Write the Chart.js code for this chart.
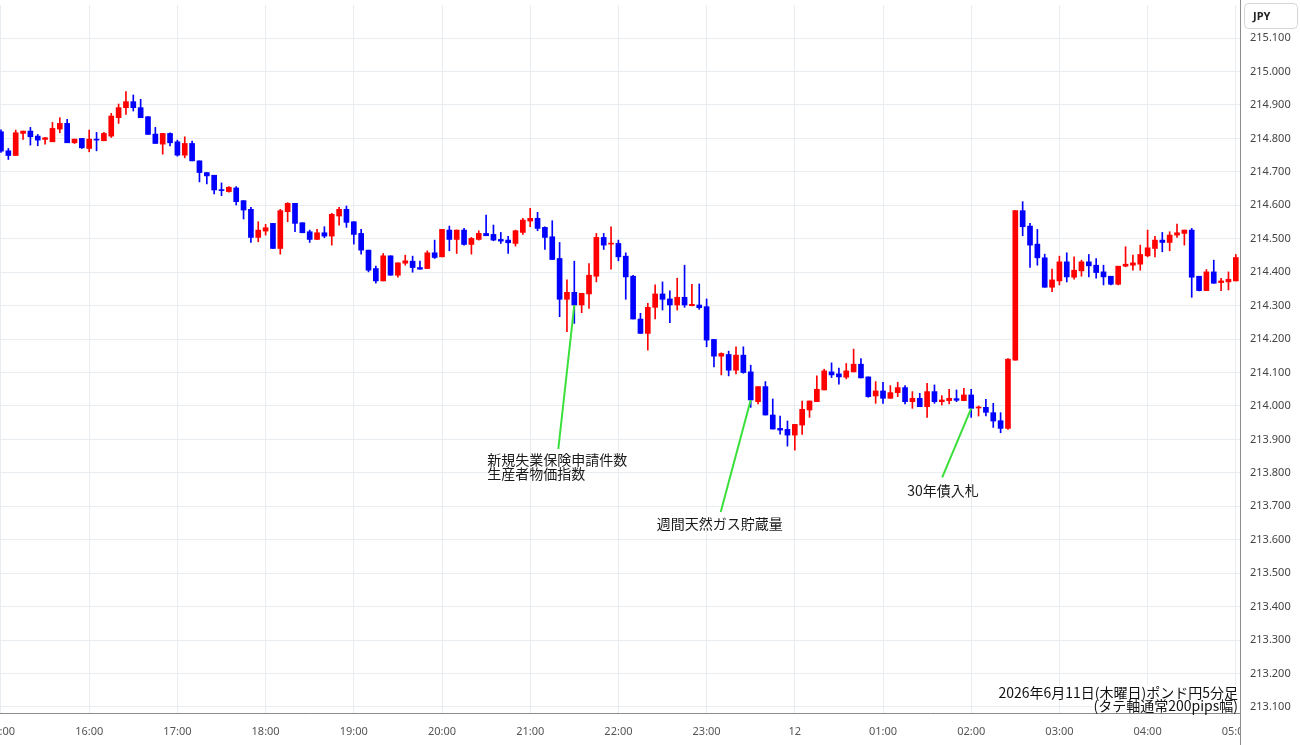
<!DOCTYPE html>
<html>
<head>
<meta charset="utf-8">
<script src="https://cdn.jsdelivr.net/npm/chart.js@4.4.1/dist/chart.umd.min.js"></script>
<style>
html,body{margin:0;padding:0;background:#fff;}
#wrap{position:relative;width:1300px;height:745px;}
</style>
</head>
<body>
<div id="wrap"><canvas id="c" width="1300" height="745"></canvas></div>
<script>
// ---- data (5-minute candles, index 0 = 15:00) ----
const opens = [
214.820,214.763,214.749,214.815,214.822,214.807,214.797,214.790,214.828,214.845,
214.787,214.800,214.770,214.798,214.793,214.807,214.862,214.892,214.910,214.892,
214.865,214.813,214.783,214.815,214.790,214.750,214.785,214.733,214.698,214.690,
214.646,214.641,214.652,214.614,214.588,214.504,214.523,214.546,214.471,214.581,
214.606,214.548,214.521,214.498,214.518,214.508,214.568,214.588,214.551,214.516,
214.466,214.411,214.374,214.449,214.391,214.427,214.433,214.414,214.411,214.458,
214.446,214.526,214.498,214.526,214.483,214.498,214.516,214.513,214.498,214.496,
214.486,214.519,214.553,214.561,214.534,214.506,214.441,214.319,214.340,214.302,
214.335,214.388,214.504,214.484,214.486,214.448,214.388,214.260,214.217,214.295,
214.335,214.320,214.302,214.325,214.300,214.302,214.297,214.199,214.149,214.154,
214.107,214.152,214.102,214.013,214.058,213.973,213.933,213.930,213.913,213.943,
213.988,214.013,214.048,214.102,214.096,214.086,214.102,214.125,214.087,214.030,
214.045,214.023,214.040,214.055,214.013,214.023,213.998,214.043,214.013,214.016,
214.022,214.016,214.033,213.994,213.996,213.980,213.956,213.933,214.137,214.584,
214.538,214.484,214.443,214.355,214.374,214.431,214.385,214.404,214.431,214.421,
214.401,214.388,214.364,214.418,214.421,214.424,214.449,214.471,214.496,214.489,
214.511,214.516,214.526,214.388,214.345,214.401,214.369,214.371,214.374
];
const highs = [
214.826,214.770,214.825,214.822,214.833,214.812,214.803,214.848,214.862,214.857,
214.798,214.800,214.825,214.818,214.818,214.875,214.903,214.940,214.930,214.917,
214.865,214.833,214.815,214.817,214.795,214.805,214.792,214.733,214.698,214.690,
214.667,214.656,214.656,214.614,214.594,214.551,214.543,214.546,214.588,214.608,
214.606,214.548,214.526,214.528,214.536,214.576,214.594,214.598,214.551,214.528,
214.466,214.418,214.456,214.449,214.428,214.451,214.448,214.433,214.464,214.496,
214.528,214.538,214.526,214.531,214.504,214.524,214.571,214.541,214.519,214.507,
214.526,214.561,214.591,214.579,214.536,214.554,214.489,214.377,214.433,214.337,
214.426,214.516,214.516,214.536,214.496,214.458,214.391,214.277,214.307,214.362,
214.371,214.344,214.382,214.421,214.364,214.365,214.320,214.199,214.159,214.164,
214.177,214.177,214.122,214.058,214.073,214.021,213.970,213.955,213.945,214.015,
214.015,214.090,214.110,214.129,214.113,214.127,214.170,214.142,214.087,214.073,
214.071,214.061,214.071,214.061,214.043,214.038,214.068,214.063,214.031,214.050,
214.048,214.053,214.050,214.000,214.020,214.008,213.980,214.142,214.584,214.611,
214.546,214.528,214.454,214.409,214.448,214.458,214.446,214.436,214.453,214.441,
214.421,214.388,214.418,214.476,214.451,214.481,214.526,214.507,214.519,214.521,
214.544,214.526,214.531,214.388,214.408,214.436,214.382,214.401,214.453
];
const lows = [
214.758,214.737,214.749,214.797,214.780,214.778,214.783,214.790,214.817,214.787,
214.785,214.770,214.760,214.763,214.793,214.803,214.845,214.872,214.882,214.862,
214.812,214.785,214.753,214.778,214.747,214.742,214.733,214.670,214.664,214.634,
214.629,214.639,214.601,214.559,214.489,214.491,214.511,214.471,214.454,214.551,
214.521,214.518,214.489,214.498,214.503,214.481,214.541,214.534,214.484,214.454,
214.401,214.367,214.374,214.391,214.385,214.421,214.400,214.409,214.411,214.441,
214.446,214.464,214.456,214.481,214.454,214.496,214.509,214.494,214.486,214.456,
214.478,214.513,214.536,214.524,214.468,214.438,214.267,214.222,214.247,214.279,
214.292,214.371,214.468,214.409,214.434,214.319,214.260,214.217,214.167,214.260,
214.287,214.249,214.287,214.295,214.299,214.289,214.177,214.117,214.093,214.090,
214.096,214.098,213.996,214.006,213.973,213.931,213.916,213.880,213.868,213.915,
213.966,214.013,214.048,214.085,214.065,214.081,214.102,214.084,214.026,214.008,
214.008,214.023,214.028,214.006,213.993,213.998,213.966,214.008,214.003,214.006,
214.013,214.016,213.966,213.970,213.970,213.936,213.920,213.930,214.137,214.509,
214.414,214.421,214.355,214.342,214.362,214.371,214.379,214.388,214.386,214.382,
214.362,214.362,214.362,214.416,214.406,214.406,214.446,214.446,214.461,214.464,
214.504,214.481,214.325,214.344,214.345,214.367,214.345,214.347,214.374
];
const closes = [
214.762,214.749,214.817,214.822,214.805,214.795,214.802,214.830,214.845,214.787,
214.798,214.772,214.798,214.795,214.815,214.867,214.892,214.910,214.892,214.862,
214.812,214.785,214.815,214.787,214.750,214.785,214.733,214.698,214.688,214.646,
214.644,214.654,214.611,214.586,214.504,214.526,214.533,214.471,214.584,214.606,
214.546,214.518,214.498,214.518,214.508,214.573,214.588,214.549,214.513,214.466,
214.406,214.374,214.449,214.391,214.428,214.434,214.414,214.409,214.458,214.444,
214.528,214.498,214.526,214.483,214.501,214.516,214.509,214.496,214.493,214.488,
214.524,214.556,214.561,214.531,214.504,214.438,214.319,214.340,214.302,214.337,
214.391,214.504,214.481,214.486,214.446,214.386,214.260,214.217,214.295,214.335,
214.319,214.302,214.325,214.302,214.304,214.294,214.197,214.149,214.157,214.107,
214.152,214.100,214.018,214.058,213.973,213.931,213.928,213.913,213.945,213.990,
214.015,214.050,214.105,214.093,214.087,214.105,214.125,214.084,214.028,214.045,
214.023,214.040,214.055,214.013,214.023,213.998,214.043,214.013,214.018,214.023,
214.017,214.033,213.993,213.997,213.981,213.955,213.933,214.140,214.584,214.536,
214.481,214.443,214.355,214.377,214.431,214.386,214.406,214.431,214.419,214.399,
214.386,214.364,214.418,214.424,214.428,214.453,214.473,214.496,214.489,214.511,
214.518,214.526,214.385,214.345,214.401,214.367,214.374,214.379,214.444
];
const hourLabels = ['15:00','16:00','17:00','18:00','19:00','20:00','21:00','22:00','23:00','12','01:00','02:00','03:00','04:00','05:00'];
const candlesPerHour = 12;
const priceTickStep = 0.1;
const currencyLabel = 'JPY';
const titleLines = ['2026年6月11日(木曜日)ポンド円5分足', '(タテ軸通常200pips幅)'];
const noteIndex = [78, 102, 132];
const notePrice = [214.302, 214.018, 213.993];
const noteTexts = [['新規失業保険申請件数', '生産者物価指数'], ['週間天然ガス貯蔵量'], ['30年債入札']];

// ---- build datasets ----
const UP = '#ff0000', DOWN = '#0000ff';
const colors = closes.map((c, i) => c >= opens[i] ? UP : DOWN);
const bodyData = opens.map((o, i) => ({x: i, y: [o, closes[i]]}));
const wickData = lows.map((l, i) => ({x: i, y: [l, highs[i]]}));

const noteLayout = [
  {dx: -16, dy: 144, tx: -71, ty: 11},
  {dx: -30, dy: 112, tx: -64, ty: 11.5},
  {dx: -29, dy: 69, tx: -35, ty: 13}
];
const linePitch = 13.5;

const overlay = {
  id: 'overlay',
  afterDatasetsDraw(chart) {
    const ctx = chart.ctx, xs = chart.scales.x, ys = chart.scales.y;
    ctx.save();
    noteIndex.forEach((idx, k) => {
      const L = noteLayout[k];
      const ax = xs.getPixelForValue(idx), ay = ys.getPixelForValue(notePrice[k]);
      const ex = ax + L.dx, ey = ay + L.dy;
      ctx.strokeStyle = '#3ae03a';
      ctx.lineWidth = 2;
      ctx.beginPath(); ctx.moveTo(ax, ay); ctx.lineTo(ex, ey); ctx.stroke();
      ctx.fillStyle = '#1a1a1a';
      ctx.font = '14px "Noto Sans CJK JP"';
      ctx.textBaseline = 'middle';
      ctx.textAlign = 'left';
      noteTexts[k].forEach((t, j) => ctx.fillText(t, ex + L.tx, ey + L.ty + j * linePitch));
    });
    ctx.restore();
  },
  afterDraw(chart) {
    const ctx = chart.ctx, area = chart.chartArea;
    ctx.save();
    // clip x labels beyond the price axis line
    ctx.fillStyle = '#ffffff';
    ctx.fillRect(area.right + 1, area.bottom + 1, 1300 - area.right, 745 - area.bottom);
    // price axis line extended to bottom
    ctx.strokeStyle = '#8c8c8c';
    ctx.lineWidth = 1;
    ctx.beginPath(); ctx.moveTo(area.right + 0.5, 0); ctx.lineTo(area.right + 0.5, 745); ctx.stroke();
    // currency box
    ctx.strokeStyle = '#d6d6d6';
    ctx.fillStyle = '#ffffff';
    ctx.beginPath();
    ctx.roundRect(area.right + 4.5, 3.5, 53, 25, 4);
    ctx.fill(); ctx.stroke();
    ctx.fillStyle = '#222';
    ctx.font = 'bold 11px "Noto Sans"';
    ctx.textAlign = 'left';
    ctx.textBaseline = 'middle';
    ctx.fillText(currencyLabel, area.right + 13, 16.5);
    // title
    ctx.font = '14px "Noto Sans CJK JP"';
    ctx.textAlign = 'right';
    const tx = area.right - 2;
    const ty = [692.5, 706];
    titleLines.forEach((t, j) => {
      const w = ctx.measureText(t).width;
      ctx.fillStyle = '#ffffff';
      ctx.fillRect(tx - w - 1, ty[j] - 7, w + 2, 14);
    });
    ctx.fillStyle = '#111';
    titleLines.forEach((t, j) => ctx.fillText(t, tx, ty[j]));
    ctx.restore();
  }
};

new Chart(document.getElementById('c'), {
  type: 'bar',
  data: {
    datasets: [
      {label: 'body', data: bodyData, backgroundColor: colors, barThickness: 5, minBarLength: 1, grouped: false, borderWidth: 0},
      {label: 'wick', data: wickData, backgroundColor: colors, barThickness: 1, minBarLength: 1, grouped: false, borderWidth: 0}
    ]
  },
  options: {
    responsive: false,
    animation: false,
    devicePixelRatio: 1,
    events: [],
    layout: {padding: {top: 5, left: 0, right: 0, bottom: 0}},
    plugins: {legend: {display: false}, tooltip: {enabled: false}},
    scales: {
      x: {
        type: 'linear',
        min: -0.136, max: 168.57,
        offset: false,
        grid: {offset: false, color: '#e8edf2', drawTicks: false},
        border: {color: '#8c8c8c'},
        ticks: {
          stepSize: candlesPerHour, includeBounds: false, autoSkip: false, maxRotation: 0,
          padding: 12, color: '#555', font: {family: 'Noto Sans', size: 11},
          callback: (v) => { const h = hourLabels[Math.round(v / candlesPerHour)]; return h === undefined ? '' : h; }
        },
        afterFit(s) { s.height = 32; s.paddingLeft = 0; s.paddingRight = 0; }
      },
      y: {
        position: 'right',
        min: 213.082, max: 215.199,
        beginAtZero: false,
        grid: {color: '#e8edf2', drawTicks: false},
        border: {color: '#8c8c8c'},
        ticks: {
          stepSize: priceTickStep, includeBounds: false, padding: 10,
          color: '#444', font: {family: 'Noto Sans', size: 11},
          callback: (v) => v.toFixed(3)
        },
        afterFit(s) { s.width = 60; s.paddingTop = 0; s.paddingBottom = 0; }
      }
    }
  },
  plugins: [overlay]
});
</script>
</body>
</html>
